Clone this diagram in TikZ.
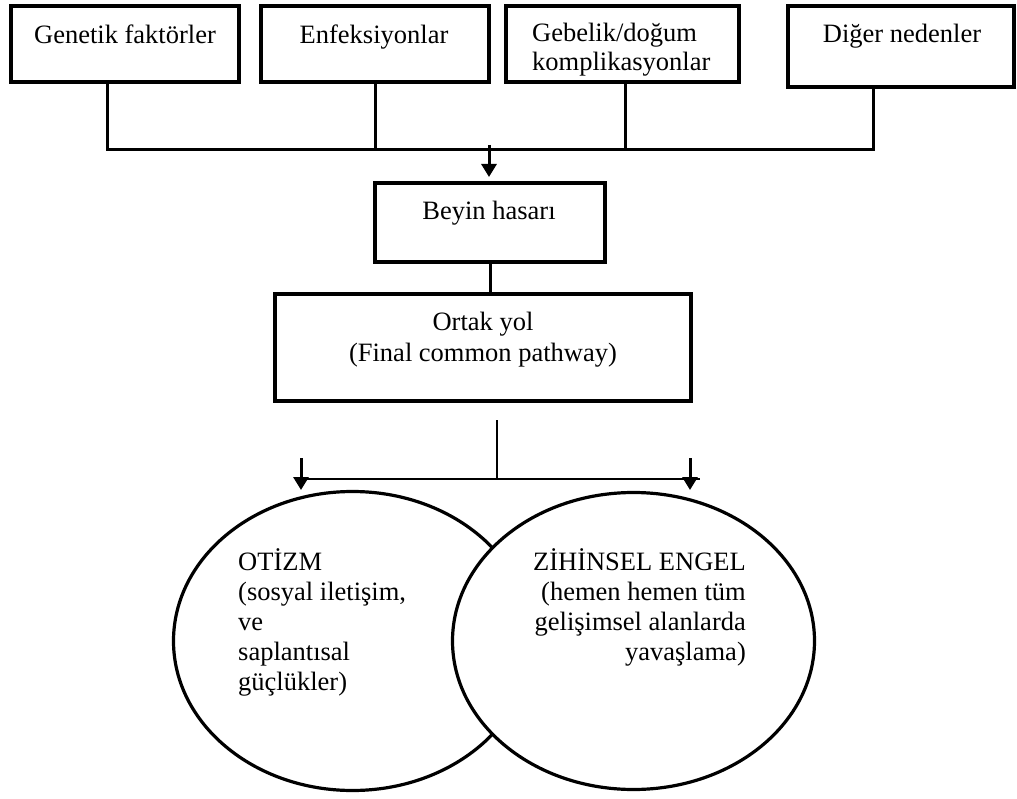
\documentclass[tikz,border=0pt]{standalone}
\usepackage{fontspec}
\setmainfont{Liberation Serif}
\usetikzlibrary{arrows.meta,shapes.geometric}
\tikzset{
  boxstyle/.style={draw=black,line width=3.2pt,inner sep=0pt,fill=white},
  thickline/.style={line width=3pt,line cap=rect},
  thinline/.style={line width=1.2pt},
  arrowline/.style={line width=3pt,-{Triangle[width=15pt,length=13pt]}},
  txt/.style={inner sep=0pt,font=\fontsize{26.5}{30}\selectfont},
  ellstyle/.style={draw=black,line width=3.2pt,ellipse,inner sep=0pt,fill=white}
}
\begin{document}
\begin{tikzpicture}[x=1pt,y=-1pt]
\useasboundingbox (0,0) rectangle (1017,799);
% top boxes
\node[boxstyle,minimum width=228pt,minimum height=76pt] (g1) at (125,44) {};
\node[boxstyle,minimum width=228pt,minimum height=76pt] (g2) at (375,44) {};
\node[boxstyle,minimum width=233pt,minimum height=76pt] (g3) at (622.5,44) {};
\node[boxstyle,minimum width=226pt,minimum height=81pt] (g4) at (901,46.5) {};
\node[txt,anchor=base] (t1) at (125,44) {Genetik faktörler};
\node[txt,anchor=base] (t2) at (374,44) {Enfeksiyonlar};
\node[txt,anchor=base west,align=left,font=\fontsize{26.5}{29}\selectfont] (t3) at (532,71) {Gebelik/doğum\\komplikasyonlar};
\node[txt,anchor=base] (t4) at (902,43) {Diğer nedenler};
% junction
\coordinate (j1) at (107,150);
\coordinate (j2) at (375,150);
\coordinate (j3) at (625,150);
\coordinate (j4) at (873,150);
\draw[thickline] (g1.south -| j1) -- (j1);
\draw[thickline] (g2.south -| j2) -- (j2);
\draw[thickline] (g3.south -| j3) -- (j3);
\draw[thickline] (g4.south -| j4) -- (j4);
\draw[thickline] (j1) -- (j4);
% beyin
\node[boxstyle,minimum width=230pt,minimum height=79pt] (beyin) at (490,222.5) {};
\node[txt,anchor=base] (tb) at (489,220) {Beyin hasarı};
\coordinate (a0) at (489,145);
\coordinate (a1) at (489,177);
\draw[arrowline] (a0) -- (a1);
% ortak
\node[boxstyle,minimum width=416pt,minimum height=107pt] (ortak) at (483,347.5) {};
\node[txt,anchor=base,align=center,font=\fontsize{26.5}{31}\selectfont] (to) at (483,362) {Ortak yol\\(Final common pathway)};
\draw[thickline,line cap=butt] (beyin.south -| 490,0) -- (ortak.north -| 490,0);
% lower branch
\coordinate (b0) at (497,420);
\coordinate (b1) at (497,479);
\coordinate (bl) at (302,479);
\coordinate (br) at (700,479);
\draw[thinline] (b0) -- (b1);
\draw[thinline] (bl) -- (br);
\coordinate (la0) at (301,458);
\coordinate (la1) at (301,490);
\coordinate (ra0) at (690,458);
\coordinate (ra1) at (690,490);
\draw[arrowline] (la0) -- (la1);
\draw[arrowline] (ra0) -- (ra1);
% ellipses
\node[ellstyle,minimum width=358pt,minimum height=299pt] (otizm) at (352.5,641) {};
\node[ellstyle,minimum width=362pt,minimum height=297pt] (zihin) at (633.5,641) {};
\node[txt,anchor=base west,align=left] (to1) at (238,690) {OTİZM\\(sosyal iletişim,\\ve\\saplantısal\\güçlükler)};
\node[txt,anchor=base east,align=right] (tz1) at (746,660) {ZİHİNSEL ENGEL\\(hemen hemen tüm\\gelişimsel alanlarda\\yavaşlama)};
\end{tikzpicture}
\end{document}
